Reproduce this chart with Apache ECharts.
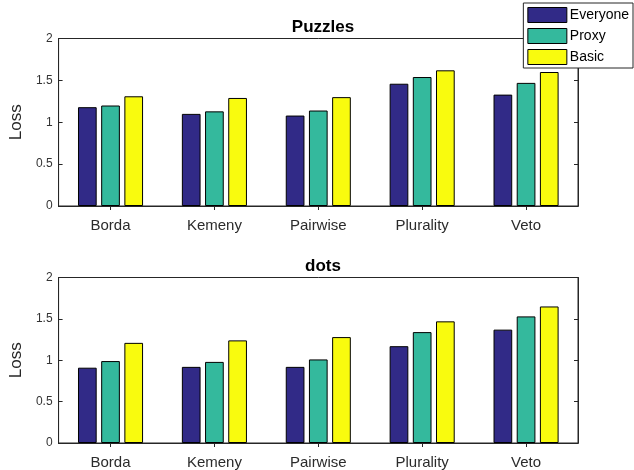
<!DOCTYPE html>
<html>
<head>
<meta charset="utf-8">
<script src="https://cdn.jsdelivr.net/npm/echarts@6/dist/echarts.min.js"></script>
<style>
  html, body { margin: 0; padding: 0; background: #fff; }
  #chart { width: 634px; height: 470px; }
</style>
</head>
<body>
<div id="chart"></div>
<script>
// Voting rules on the x axis
const categories = ['Borda', 'Kemeny', 'Pairwise', 'Plurality', 'Veto'];
const seriesNames = ['Everyone', 'Proxy', 'Basic'];
const seriesColors = ['#312a87', '#34b99d', '#f9fb0e'];

// Loss per rule, "Puzzles" dataset
const puzzlesEveryone = [1.18, 1.10, 1.08, 1.46, 1.33];
const puzzlesProxy    = [1.20, 1.13, 1.14, 1.54, 1.47];
const puzzlesBasic    = [1.31, 1.29, 1.30, 1.62, 1.60];

// Loss per rule, "dots" dataset
const dotsEveryone = [0.91, 0.92, 0.92, 1.17, 1.37];
const dotsProxy    = [0.99, 0.98, 1.01, 1.34, 1.53];
const dotsBasic    = [1.21, 1.24, 1.28, 1.47, 1.65];

const yTicks = [0, 0.5, 1, 1.5, 2];

const FONT = '"Liberation Sans", Arial, sans-serif';

const panels = [
  { title: 'Puzzles', top: 38.5, data: [puzzlesEveryone, puzzlesProxy, puzzlesBasic] },
  { title: 'dots', top: 277.5, data: [dotsEveryone, dotsProxy, dotsBasic] }
];
const plotHeight = 167.5;

const grids = [], xAxes = [], yAxes = [], series = [], titles = [];

panels.forEach((p, i) => {
  // boxed plot area
  grids.push({
    left: 58, right: 56, top: p.top, height: plotHeight, containLabel: false,
    show: true, borderColor: '#262626', borderWidth: 1, backgroundColor: 'transparent'
  });
  titles.push({
    text: p.title, left: 318, top: p.top - 25, textAlign: 'center',
    textStyle: { fontFamily: FONT, fontSize: 17, fontWeight: 'bold', color: '#000' }
  });
  // bottom category axis with labels
  xAxes.push({
    type: 'category', gridIndex: i, data: categories, position: 'bottom',
    boundaryGap: true,
    axisLine: { lineStyle: { color: '#262626', width: 1 } },
    axisTick: { show: false },
    axisLabel: { fontFamily: FONT, fontSize: 15, color: '#2b2b2b', margin: 12 }
  });
  // top frame edge with tick marks
  xAxes.push({
    type: 'category', gridIndex: i, data: categories, position: 'top',
    boundaryGap: true,
    axisLine: { lineStyle: { color: '#262626', width: 1 } },
    axisTick: { show: true, inside: true, alignWithLabel: true, length: 4, lineStyle: { color: '#262626' } },
    axisLabel: { show: false }
  });
  yAxes.push({
    type: 'value', gridIndex: i, min: 0, max: 2, interval: 0.5, position: 'left',
    name: 'Loss', nameLocation: 'middle', nameGap: 31,
    nameTextStyle: { fontFamily: FONT, fontSize: 17, color: '#262626' },
    axisLine: { show: true, lineStyle: { color: '#262626', width: 1 } },
    axisTick: { show: true, inside: true, length: 4, lineStyle: { color: '#262626' } },
    axisLabel: {
      fontFamily: FONT, fontSize: 12, color: '#333', margin: 6,
      formatter: v => (yTicks.includes(v) ? String(v) : '')
    },
    splitLine: { show: false }
  });
  yAxes.push({
    type: 'value', gridIndex: i, min: 0, max: 2, interval: 0.5, position: 'right',
    axisLine: { show: true, lineStyle: { color: '#262626', width: 1 } },
    axisTick: { show: true, inside: true, length: 4, lineStyle: { color: '#262626' } },
    axisLabel: { show: false },
    splitLine: { show: false }
  });
  p.data.forEach((vals, k) => {
    series.push({
      type: 'bar', name: seriesNames[k],
      xAxisIndex: i * 2, yAxisIndex: i * 2,
      data: vals,
      barWidth: '18%', barGap: '24%',
      itemStyle: { color: seriesColors[k], borderColor: '#000', borderWidth: 1 },
      emphasis: { disabled: true },
      animation: false
    });
  });
});

const chart = echarts.init(document.getElementById('chart'), null, { renderer: 'canvas' });
chart.setOption({
  animation: false,
  backgroundColor: '#fff',
  title: titles,
  legend: {
    data: seriesNames,
    orient: 'vertical',
    right: 1, top: 3,
    itemWidth: 39, itemHeight: 15, itemGap: 5,
    padding: [4, 4, 3, 4],
    backgroundColor: '#fff',
    borderColor: '#262626', borderWidth: 1, borderRadius: 0,
    icon: 'rect',
    itemStyle: { borderColor: '#000', borderWidth: 1 },
    textStyle: { fontFamily: FONT, fontSize: 14, color: '#000', padding: [0, 0, 0, -2] },
    selectedMode: false
  },
  grid: grids,
  xAxis: xAxes,
  yAxis: yAxes,
  series: series
});
</script>
</body>
</html>
